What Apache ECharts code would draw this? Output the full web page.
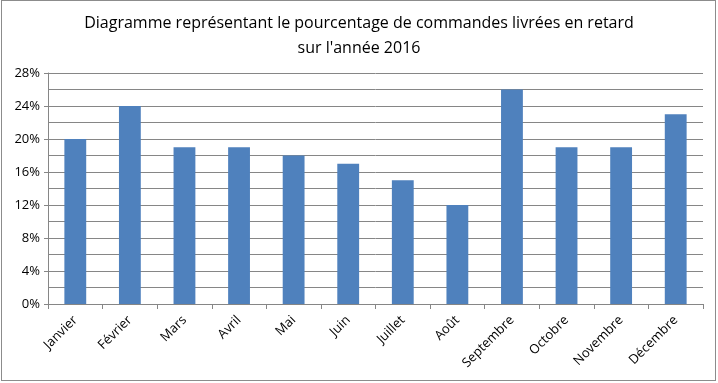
<!DOCTYPE html>
<html><head><meta charset="utf-8">
<script src="https://cdn.jsdelivr.net/npm/echarts@6/dist/echarts.min.js"></script>
<style>
html,body{margin:0;padding:0;background:#fff;}
#frame{position:absolute;left:1px;top:0px;width:715px;height:381px;border:1px solid #8c8c8c;box-sizing:border-box;}
#c{position:absolute;left:0;top:0;width:718px;height:383px;}
</style></head>
<body>
<div id="frame"></div>
<div id="c"></div>
<script>
const titleText = "Diagramme représentant le pourcentage de commandes livrées en retard\nsur l'année 2016";
const months = ["Janvier","Février","Mars","Avril","Mai","Juin","Juillet","Août","Septembre","Octobre","Novembre","Décembre"];
const pctLate = [20,24,19,19,18,17,15,12,26,19,19,23];
const yTicks = [0,4,8,12,16,20,24,28];

const chart = echarts.init(document.getElementById('c'), null, {renderer:'canvas'});
chart.setOption({
  animation:false,
  title:{
    text:titleText, left:'center', top:6,
    textStyle:{fontFamily:'Open Sans', fontSize:16, fontWeight:'normal', color:'#000', lineHeight:25}
  },
  grid:{left:48, right:15, top:73, bottom:79},
  xAxis:{
    type:'category', data:months,
    axisLine:{lineStyle:{color:'#868686'}},
    axisTick:{show:true, length:5, lineStyle:{color:'#868686'}},
    axisLabel:{rotate:45, color:'#000', fontFamily:'Open Sans', fontSize:13, margin:14, interval:0}
  },
  yAxis:{
    type:'value', min:yTicks[0], max:yTicks[yTicks.length-1], interval:4,
    axisLine:{show:true, lineStyle:{color:'#868686'}},
    axisTick:{show:true, length:4, lineStyle:{color:'#868686'}},
    axisLabel:{formatter:'{value}%', color:'#000', fontFamily:'Open Sans', fontSize:13, margin:8},
    splitLine:{lineStyle:{color:'#868686'}},
    minorTick:{show:false, splitNumber:2},
    minorSplitLine:{show:true, lineStyle:{color:'#868686'}}
  },
  series:[{
    type:'bar', data:pctLate, barWidth:'40%',
    itemStyle:{color:'#4F81BD'}
  }]
});
</script>
</body></html>
